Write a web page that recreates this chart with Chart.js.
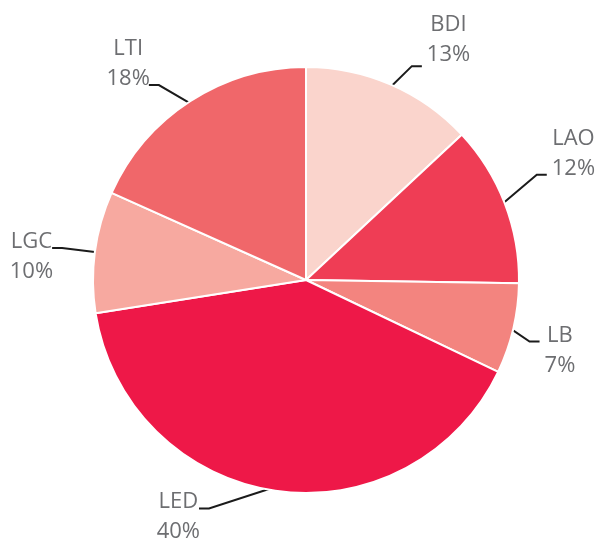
<!DOCTYPE html>
<html><head><meta charset="utf-8">
<script src="https://cdn.jsdelivr.net/npm/chart.js@4"></script>
<style>html,body{margin:0;padding:0;background:#fff;overflow:hidden}#wrap{width:597px;height:541px}</style>
</head><body><div id="wrap"><canvas id="c" width="597" height="541"></canvas></div>
<script>
const categories = ['BDI', 'LAO', 'LB', 'LED', 'LGC', 'LTI'];
// slice sizes as drawn in the picture (percent of the whole)
const shares = [13.05, 12.2, 6.85, 40.4, 9.2, 18.3];
// percentage texts as printed on the chart
const shareLabels = ['13%', '12%', '7%', '40%', '10%', '18%'];
const sliceColors = ['#FAD4CC', '#EF3D55', '#F3847F', '#EE1848', '#F7A9A0', '#F0676A'];
// label elbow nudges (style only, px) relative to a radial point
const labelNudges = [[9, 9], [4, -18], [-13, 6], [-62, -12], [-3, 0], [-15, 9]];
const textShifts = [-5, 0, 0, 0, 0, 0];

const FONT = '22px "Open Sans", "Noto Sans", sans-serif';
const LEAD = 30, HSEG = 10;

function geom(chart) {
  const meta = chart.getDatasetMeta(0);
  return meta.data.map((arc, i) => {
    const p = arc.getProps(['x', 'y', 'startAngle', 'endAngle', 'outerRadius'], true);
    const a = (p.startAngle + p.endAngle) / 2;
    const r = p.outerRadius;
    const sx = p.x + Math.cos(a) * (r - 4), sy = p.y + Math.sin(a) * (r - 4);
    const ex = p.x + Math.cos(a) * (r + LEAD) + labelNudges[i][0];
    const ey = p.y + Math.sin(a) * (r + LEAD) + labelNudges[i][1];
    const right = Math.cos(a) >= 0;
    const lx = right ? ex + HSEG : ex - HSEG;
    const top = Math.sin(a) < -0.25;
    return {sx, sy, ex, ey, lx, right, top};
  });
}

const leaderPlugin = {
  id: 'leaders',
  beforeDatasetsDraw(chart) {
    const ctx = chart.ctx;
    ctx.save();
    ctx.strokeStyle = '#1b1b1b';
    ctx.lineWidth = 2;
    geom(chart).forEach(g => {
      ctx.beginPath();
      ctx.moveTo(g.sx, g.sy);
      ctx.lineTo(g.ex, g.ey);
      ctx.lineTo(g.lx, g.ey);
      ctx.stroke();
    });
    ctx.restore();
  },
  afterDatasetsDraw(chart) {
    const ctx = chart.ctx;
    ctx.save();
    ctx.font = FONT;
    ctx.fillStyle = '#6D6E71';
    ctx.textAlign = 'center';
    ctx.textBaseline = 'alphabetic';
    geom(chart).forEach((g, i) => {
      const l1 = categories[i], l2 = shareLabels[i];
      const w = Math.max(ctx.measureText(l1).width, ctx.measureText(l2).width);
      const cx = g.right ? g.lx + 5 + w / 2 : g.lx - w / 2 + 1;
      const b1 = (g.top ? g.ey - 30 : g.ey) + textShifts[i];
      ctx.fillText(l1, cx, b1);
      ctx.fillText(l2, cx, b1 + 30);
    });
    ctx.restore();
  }
};

new Chart(document.getElementById('c'), {
  type: 'pie',
  data: {
    labels: categories,
    datasets: [{
      data: shares,
      backgroundColor: sliceColors,
      borderColor: '#ffffff',
      borderWidth: 2
    }]
  },
  options: {
    responsive: false,
    animation: false,
    layout: {padding: {left: 92, right: 77, top: 66, bottom: 47}},
    plugins: {legend: {display: false}, tooltip: {enabled: false}}
  },
  plugins: [leaderPlugin]
});
</script>
</body></html>
